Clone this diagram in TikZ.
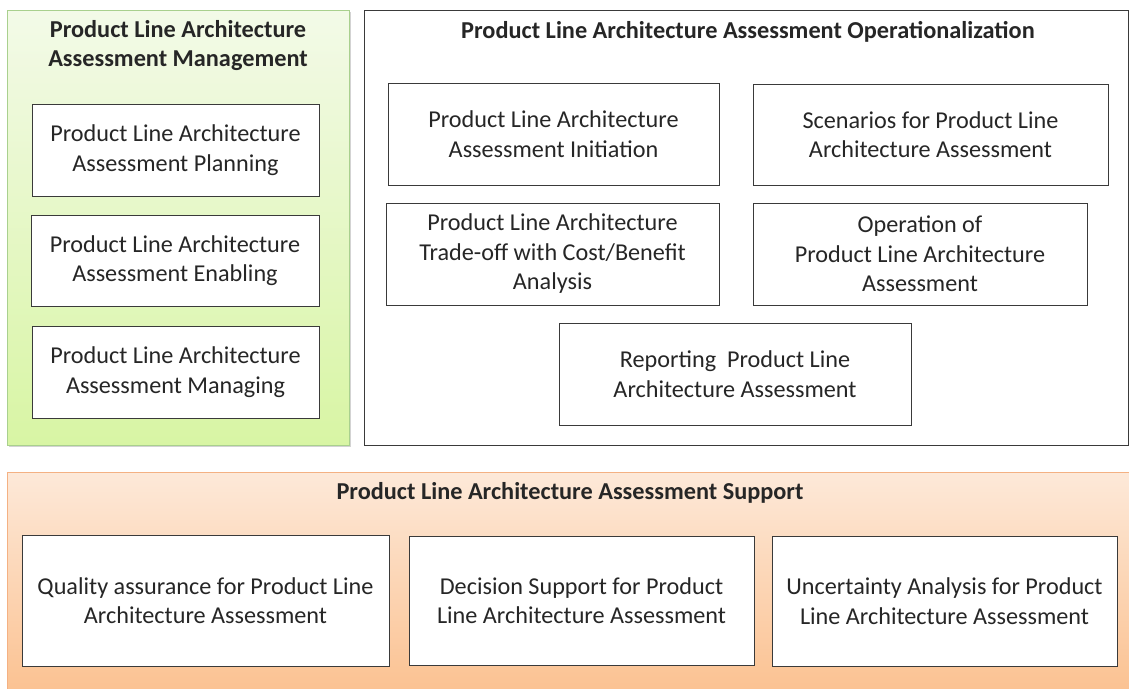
\documentclass[tikz,border=0pt]{standalone}
\usepackage{fontspec}
\setmainfont{Carlito}
\usetikzlibrary{shadows}
\definecolor{txt}{HTML}{262626}
\definecolor{edge}{HTML}{3A3A3A}
\definecolor{gtop}{HTML}{F3FAE8}
\definecolor{gbot}{HTML}{D8F5A4}
\definecolor{gedge}{HTML}{A9D08E}
\definecolor{otop}{HTML}{FDE9D9}
\definecolor{obot}{HTML}{FBC08E}
\definecolor{oedge}{HTML}{F4B183}
\tikzset{
  inbox/.style={draw=edge, line width=1pt, fill=white, align=center, text=txt,
    font=\fontsize{24.2}{29.5}\selectfont, inner sep=0pt},
  title/.style={align=center, text=txt, font=\fontsize{24.3}{29}\selectfont\bfseries, inner sep=0pt},
  greencont/.style={draw=gedge, line width=1pt, top color=gtop, bottom color=gbot,
    drop shadow={opacity=0.35, shadow xshift=2pt, shadow yshift=-2pt}},
  whitecont/.style={draw=edge, line width=1pt, fill=white},
  orangecont/.style={draw=oedge, line width=1pt, top color=otop, bottom color=obot},
}
\begin{document}
\begin{tikzpicture}[x=1pt, y=-1pt]
\useasboundingbox (0,0) rectangle (1129,688);
% containers
\node[greencont, minimum width=342pt, minimum height=435pt, inner sep=0pt] (mgmt) at (178,227.5) {};
\node[whitecont, minimum width=764pt, minimum height=435pt, inner sep=0pt] (oper) at (746,227.5) {};
\node[orangecont, minimum width=1122pt, minimum height=230pt, inner sep=0pt] (supp) at (568,587) {};
% titles
\node[title] (mgmtT) at (178,46) {Product Line Architecture\\Assessment Management};
\node[title] (operT) at (748,31.5) {Product Line Architecture Assessment Operationalization};
\node[title] (suppT) at (570,492.5) {Product Line Architecture Assessment Support};
% management boxes
\node[inbox, minimum width=287pt, minimum height=92pt] (plan) at (175.5,150) {Product Line Architecture\\Assessment Planning};
\node[inbox, minimum width=288pt, minimum height=91pt] (enab) at (175,260.5) {Product Line Architecture\\Assessment Enabling};
\node[inbox, minimum width=287pt, minimum height=92pt] (mana) at (175.5,372) {Product Line Architecture\\Assessment Managing};
% operationalization boxes
\node[inbox, minimum width=331pt, minimum height=102pt] (init) at (553.5,134) {Product Line Architecture\\Assessment Initiation};
\node[inbox, minimum width=355pt, minimum height=101pt] (scen) at (930.5,134.5) {Scenarios for Product Line\\Architecture Assessment};
\node[inbox, minimum width=333pt, minimum height=102pt] (trad) at (552.5,254) {Product Line Architecture\\Trade-off with Cost/Benefit\\Analysis};
\node[inbox, minimum width=334pt, minimum height=102pt] (opsn) at (920,254) {Operation of\\Product Line Architecture\\Assessment};
\node[inbox, minimum width=352pt, minimum height=102pt] (repo) at (735,374) {Reporting\ \ Product Line\\Architecture Assessment};
% support boxes
\node[inbox, minimum width=367pt, minimum height=131pt] (qual) at (205.5,600.5) {Quality assurance for Product Line\\Architecture Assessment};
\node[inbox, minimum width=345pt, minimum height=129pt] (deci) at (581.5,600.5) {Decision Support for Product\\Line Architecture Assessment};
\node[inbox, minimum width=345pt, minimum height=130pt] (unce) at (944.5,601) {Uncertainty Analysis for Product\\Line Architecture Assessment};
\end{tikzpicture}
\end{document}
